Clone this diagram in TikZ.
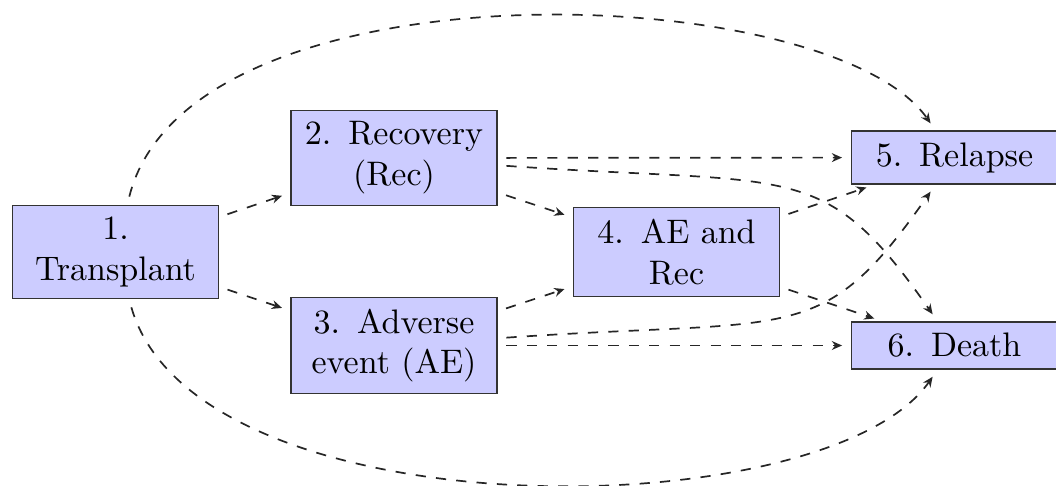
\documentclass[tikz,border=0pt]{standalone}
\usetikzlibrary{arrows.meta}
\definecolor{boxfill}{RGB}{204,204,255}
\tikzset{
  statebox/.style={draw=black!80, fill=boxfill, text width=54pt, align=center, inner sep=3.33pt, line width=0.45pt},
  trans/.style={dashed, line width=0.5pt, draw=black!85, -{Stealth[length=3pt,width=2.6pt]}, shorten >=2.5pt, shorten <=2.5pt}
}
\begin{document}
\begin{tikzpicture}[x=0.294pt,y=0.294pt]
\useasboundingbox (0,0) rectangle (1056,-485);
\node[statebox] (n1) at (115.5,-252) {1.\\Transplant};
\node[statebox] (n2) at (394,-158) {2. Recovery\\(Rec)};
\node[statebox] (n3) at (394,-345.5) {3. Adverse\\event (AE)};
\node[statebox] (n4) at (676.5,-252) {4. AE and\\Rec};
\node[statebox] (n5) at (954.5,-157.5) {5. Relapse};
\node[statebox] (n6) at (954.5,-345.5) {6. Death};
\draw[trans] (n1) -- (n2);
\draw[trans] (n1) -- (n3);
\draw[trans] (n2) -- (n4);
\draw[trans] (n3) -- (n4);
\draw[trans] (n4) -- (n5);
\draw[trans] (n4) -- (n6);
\draw[trans] (n2) -- (n5);
\draw[trans] (n3) -- (n6);
\draw[trans] (n2) to[out=-4,in=125,out distance=88pt,in distance=59pt] (n6);
\draw[trans] (n3) to[out=4,in=-125,out distance=88pt,in distance=59pt] (n5);
\draw[trans] (n1) to[out=76,in=125,out distance=75pt,in distance=54.4pt] (n5);
\draw[trans] (n1) to[out=-74,in=-125,out distance=72pt,in distance=57.3pt] (n6);
\end{tikzpicture}
\end{document}
